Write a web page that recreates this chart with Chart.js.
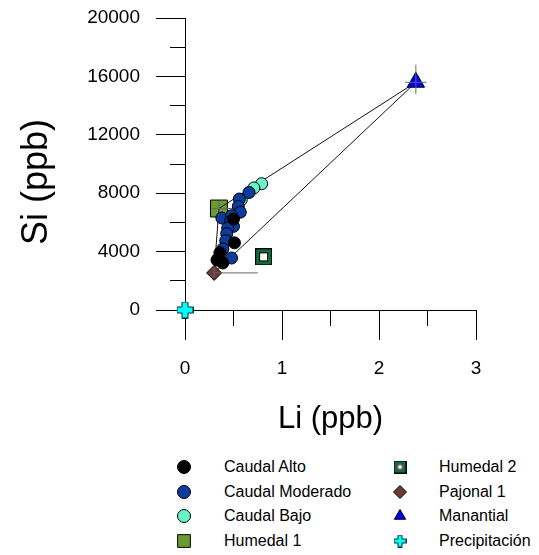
<!DOCTYPE html>
<html>
<head>
<meta charset="utf-8">
<script src="https://cdn.jsdelivr.net/npm/chart.js@4.4.0/dist/chart.umd.min.js"></script>
<style>
  html, body { margin: 0; padding: 0; background: #fff; }
  #wrap { position: relative; width: 539px; height: 555px; font-family: "Liberation Sans", Arial, sans-serif; }
  #plot { position: absolute; left: 0; top: 0; }
  .key { position: absolute; }
  .key-label { position: absolute; font-size: 16px; line-height: 24px; color: #000; white-space: nowrap; }
</style>
</head>
<body>
<div id="wrap">
  <canvas id="plot" width="539" height="450"></canvas>
  <div id="legend"></div>
</div>
<script>
const FONT = '"Liberation Sans", Arial, sans-serif';

// stream samples by flow condition
const altoLi = [0.50, 0.51, 0.36, 0.34, 0.39, 0.33];
const altoSi = [6230, 4600, 3920, 3500, 3220, 3420];
const moderadoLi = [0.66, 0.56, 0.55, 0.57, 0.38, 0.48, 0.47, 0.50, 0.44, 0.43, 0.42, 0.39, 0.48];
const moderadoSi = [8050, 7600, 7100, 6700, 6300, 6460, 6070, 5730, 5620, 5230, 4750, 4180, 3560];
const bajoLi = [0.79, 0.71, 0.58];
const bajoSi = [8650, 8360, 7550];

// end members
const humedal1Li = [0.35], humedal1Si = [6950];
const humedal2Li = [0.81], humedal2Si = [3640];
const pajonalLi = [0.30], pajonalSi = [2540];
const manantialLi = [2.38], manantialSi = [15600];
const precipLi = [0], precipSi = [0];

// error bars for Humedal 1, Pajonal 1, Manantial
const errLi = [humedal1Li[0], pajonalLi[0], manantialLi[0]];
const errSi = [humedal1Si[0], pajonalSi[0], manantialSi[0]];
const errLiLow = [0.08, 0, 0.11];
const errLiHigh = [0.27, 0.45, 0.11];
const errSiLow = [500, 300, 800];
const errSiHigh = [500, 300, 1200];

// labelled ticks
const xMajor = [0, 1, 2, 3];
const yMajor = [0, 4000, 8000, 12000, 16000, 20000];

const pts = (li, si) => li.map((x, i) => ({ x, y: si[i] }));
const gap = { x: null, y: null };

const errorData = [];
errLi.forEach((x, i) => {
  const y = errSi[i];
  errorData.push({ x: x - errLiLow[i], y }, { x: x + errLiHigh[i], y }, gap);
  errorData.push({ x, y: y - errSiLow[i] }, { x, y: y + errSiHigh[i] }, gap);
});

// mixing triangle between the three end members
const mixData = [
  { x: manantialLi[0], y: manantialSi[0] },
  { x: humedal1Li[0], y: humedal1Si[0] },
  { x: pajonalLi[0], y: pajonalSi[0] },
  { x: manantialLi[0], y: manantialSi[0] }
];

function hollowSquare(s, inner) {
  const cv = document.createElement('canvas');
  cv.width = cv.height = s;
  const c = cv.getContext('2d');
  c.fillStyle = '#0f6b3a';
  c.fillRect(0, 0, s, s);
  c.strokeStyle = '#000';
  c.lineWidth = 1;
  c.strokeRect(0.5, 0.5, s - 1, s - 1);
  const o = (s - inner) / 2;
  c.fillStyle = '#fff';
  c.fillRect(o, o, inner, inner);
  c.strokeRect(o + 0.5, o + 0.5, inner - 1, inner - 1);
  return cv;
}

function plusSign(s, arm) {
  const cv = document.createElement('canvas');
  cv.width = cv.height = s;
  const c = cv.getContext('2d');
  const a = (s - arm) / 2, b = a + arm, e = s - 0.5, z = 0.5;
  c.beginPath();
  c.moveTo(a + z, z); c.lineTo(b - z, z); c.lineTo(b - z, a + z); c.lineTo(e, a + z);
  c.lineTo(e, b - z); c.lineTo(b - z, b - z); c.lineTo(b - z, e); c.lineTo(a + z, e);
  c.lineTo(a + z, b - z); c.lineTo(z, b - z); c.lineTo(z, a + z); c.lineTo(a + z, a + z);
  c.closePath();
  c.fillStyle = '#00ffff';
  c.fill();
  c.strokeStyle = '#0b2b2b';
  c.lineWidth = 1;
  c.stroke();
  return cv;
}

const h2Mark = hollowSquare(17, 9);
const precipMark = plusSign(17, 7);

const datasets = [
  { label: 'Caudal Alto', data: pts(altoLi, altoSi), pointStyle: 'circle', pointRadius: 6,
    backgroundColor: '#000000', borderColor: '#000', borderWidth: 1, order: 6,
    legend: { style: 'circle', r: 6.5 } },
  { label: 'Caudal Moderado', data: pts(moderadoLi, moderadoSi), pointStyle: 'circle', pointRadius: 6,
    backgroundColor: '#0d3b9e', borderColor: '#000', borderWidth: 1, order: 7,
    legend: { style: 'circle', r: 6.5 } },
  { label: 'Caudal Bajo', data: pts(bajoLi, bajoSi), pointStyle: 'circle', pointRadius: 6,
    backgroundColor: '#66f5c8', borderColor: '#000', borderWidth: 1, order: 8,
    legend: { style: 'circle', r: 6.5 } },
  { label: 'Humedal 1', data: pts(humedal1Li, humedal1Si), pointStyle: 'rect', pointRadius: 12,
    backgroundColor: '#6b9a2f', borderColor: '#000', borderWidth: 1, order: 12,
    legend: { style: 'rect', r: 9 } },
  { label: 'Humedal 2', data: pts(humedal2Li, humedal2Si), pointStyle: h2Mark, pointRadius: 9,
    backgroundColor: '#0f6b3a', borderColor: '#000', borderWidth: 1, order: 5,
    legend: { style: hollowSquare(13, 6), r: 6 } },
  { label: 'Pajonal 1', data: pts(pajonalLi, pajonalSi), pointStyle: 'rectRot', pointRadius: 7.5,
    backgroundColor: '#6b3b37', borderColor: '#000', borderWidth: 1, order: 10,
    legend: { style: 'rectRot', r: 6.5 } },
  { label: 'Manantial', data: pts(manantialLi, manantialSi), pointStyle: 'triangle', pointRadius: 10,
    backgroundColor: '#0000ff', borderColor: '#000', borderWidth: 1, order: 10,
    legend: { style: 'triangle', r: 6.5 } },
  { label: 'Precipitación', data: pts(precipLi, precipSi), pointStyle: precipMark, pointRadius: 9,
    backgroundColor: '#00ffff', borderColor: '#000', borderWidth: 1, order: 1, clip: false,
    legend: { style: plusSign(13, 5), r: 6 } },
  { data: mixData, showLine: true, pointRadius: 0, borderColor: '#111', borderWidth: 1, order: 11 },
  { data: errorData, showLine: true, spanGaps: false, pointRadius: 0, borderColor: '#666', borderWidth: 1, order: 9 }
];

// y title sits centred on the full axis line (down to the end of the x tick)
const yTitle = {
  id: 'yTitle',
  afterDraw(chart) {
    const s = chart.scales.y;
    const c = chart.ctx;
    c.save();
    c.translate(37, (s.top + s.bottom + 36) / 2);
    c.rotate(-Math.PI / 2);
    c.font = '36px ' + FONT;
    c.fillStyle = '#000';
    c.textAlign = 'center';
    c.textBaseline = 'middle';
    c.fillText('Si (ppb)', 0, 0);
    c.restore();
  }
};

// minor ticks are half length; y ticks are stroked from the label side inward
const minorDash = (major, pattern) => ctx => major.includes(ctx.tick.value) ? [] : pattern;

const chart = new Chart(document.getElementById('plot'), {
  type: 'scatter',
  data: { datasets },
  plugins: [yTitle],
  options: {
    responsive: false,
    animation: false,
    events: [],
    layout: { padding: { left: 0, right: 63, top: 18, bottom: 0 } },
    plugins: { legend: { display: false }, tooltip: { enabled: false } },
    scales: {
      x: {
        type: 'linear', position: 'bottom', min: 0, max: 3,
        ticks: { stepSize: 0.5, autoSkip: false, maxRotation: 0, padding: 17, color: '#000',
          font: { family: FONT, size: 19 }, callback: v => xMajor.includes(v) ? String(v) : '' },
        grid: { drawOnChartArea: false, tickLength: 30, tickColor: '#000', tickWidth: 1,
          tickBorderDash: minorDash(xMajor, [15, 100]) },
        border: { display: true, color: '#000', width: 1 },
        title: { display: true, text: 'Li (ppb)', color: '#000', font: { family: FONT, size: 31 },
          padding: { top: 0, bottom: 12 } },
        afterFit: s => { s.height = 140; s.paddingLeft = 0; s.paddingRight = 0; }
      },
      y: {
        type: 'linear', position: 'left', min: 0, max: 20000,
        ticks: { stepSize: 2000, autoSkip: false, padding: 16, color: '#000',
          font: { family: FONT, size: 19 }, callback: v => yMajor.includes(v) ? String(v) : '' },
        grid: { drawOnChartArea: false, tickLength: 29, tickColor: '#000', tickWidth: 1,
          tickBorderDash: minorDash(yMajor, [0, 14, 15, 100]) },
        border: { display: true, color: '#000', width: 1 },
        title: { display: false },
        afterFit: s => { s.width = 185; s.paddingTop = 0; s.paddingBottom = 0; }
      }
    }
  }
});

// two-column legend under the plot
const legend = document.getElementById('legend');
const keyCols = [{ mark: 184, text: 224 }, { mark: 400, text: 439 }];
datasets.filter(d => d.legend).forEach((d, i) => {
  const col = keyCols[Math.floor(i / 4)];
  const rowY = 467 + (i % 4) * 24.7;
  const cv = document.createElement('canvas');
  cv.width = cv.height = 22;
  cv.className = 'key';
  cv.style.left = (col.mark - 11) + 'px';
  cv.style.top = (rowY - 11) + 'px';
  const c = cv.getContext('2d');
  c.fillStyle = d.backgroundColor;
  c.strokeStyle = '#000';
  c.lineWidth = 1;
  Chart.helpers.drawPoint(c, { pointStyle: d.legend.style, radius: d.legend.r, rotation: 0, borderWidth: 1 }, 11, 11);
  legend.appendChild(cv);
  const lab = document.createElement('div');
  lab.className = 'key-label';
  lab.textContent = d.label;
  lab.style.left = col.text + 'px';
  lab.style.top = (rowY - 12) + 'px';
  legend.appendChild(lab);
});
</script>
</body>
</html>
